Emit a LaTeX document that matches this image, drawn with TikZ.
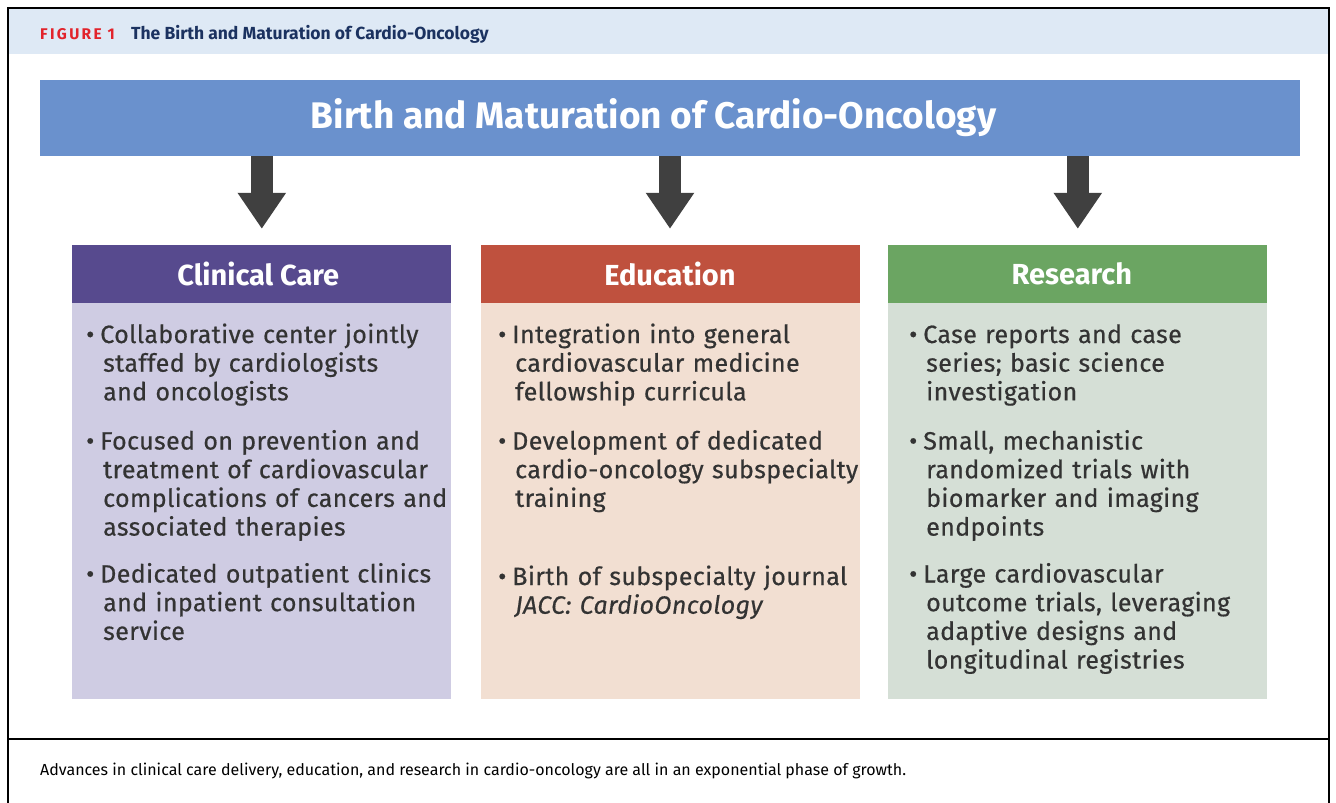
\documentclass[tikz,border=0pt]{standalone}
\usepackage{fontspec}
\setmainfont{Fira Sans}
\newfontfamily\bodyfont[FakeBold=0.5,LetterSpace=1.5]{Fira Sans}
\newfontfamily\figlabelfont[LetterSpace=15]{Fira Sans}
\usetikzlibrary{arrows.meta,positioning}

\definecolor{figBandColor}{RGB}{222,233,245}
\definecolor{figLabelColor}{RGB}{226,35,43}
\definecolor{figTitleColor}{RGB}{27,50,96}
\definecolor{bannerColor}{RGB}{106,145,205}
\definecolor{arrowColor}{RGB}{64,64,64}
\definecolor{textColor}{RGB}{51,51,51}
\definecolor{careHeadColor}{RGB}{87,74,142}
\definecolor{careBodyColor}{RGB}{207,204,227}
\definecolor{eduHeadColor}{RGB}{191,81,62}
\definecolor{eduBodyColor}{RGB}{242,223,210}
\definecolor{resHeadColor}{RGB}{107,165,98}
\definecolor{resBodyColor}{RGB}{213,223,214}

% one bullet with a hanging indent, lines broken by hand
\newcommand{\bul}[1]{\hangindent=17pt\hangafter=1 \textbullet\hspace{6pt}#1\par}

\begin{document}
\begin{tikzpicture}[x=1pt,y=-1pt]
    \tikzset{
        head/.style={fill=#1, text=white, font=\fontsize{29}{33}\selectfont\bfseries, minimum width=379pt, minimum height=58pt, inner sep=0pt},
        pillar/.style={fill=#1, minimum width=379pt, minimum height=396pt, inner sep=0pt},
        item/.style={anchor=base west, inner sep=0pt, text width=365pt, align=left, text=textColor, font=\bodyfont\fontsize{25}{28.7}\selectfont},
        bigarrow/.style={arrowColor, line width=22pt, -{Triangle[width=46pt,length=36pt]}, shorten >=16pt}
    }
    \useasboundingbox (0,0) rectangle (1336,803);

    % frame, title band and caption rule
    \fill[figBandColor] (9,9) rectangle (1328,54);
    \draw[line width=2pt] (8,8) rectangle (1329,810);
    \draw[line width=2.5pt] (8,739) -- (1329,739);
    \node[anchor=base west, inner sep=0pt] (figlabel) at (40,39)
        {\figlabelfont\fontsize{15.5}{16}\selectfont\bfseries\textcolor{figLabelColor}{FIGURE 1}};
    \node[anchor=base west, inner sep=0pt] (figtitle) at (131,39)
        {\fontsize{17.5}{18}\selectfont\bfseries\textcolor{figTitleColor}{The Birth and Maturation of Cardio-Oncology}};

    \node[fill=bannerColor, minimum width=1260pt, minimum height=76pt, inner sep=0pt,
          text=white, font=\fontsize{37}{40}\selectfont\bfseries] (banner) at (670,118)
        {Birth and Maturation of Cardio-Oncology\hspace*{33pt}};

    % the three pillars
    \node[head=careHeadColor] (care) at (261.8,274) {Clinical Care\hspace*{7pt}};
    \node[pillar=careBodyColor, below=0pt of care] (careBody) {};
    \node[head=eduHeadColor] (edu) at (670,274) {Education};
    \node[pillar=eduBodyColor, below=0pt of edu] (eduBody) {};
    \node[head=resHeadColor] (res) at (1077.8,274) {Research\hspace*{12pt}};
    \node[pillar=resBodyColor, below=0pt of res] (resBody) {};

    \foreach \p in {care,edu,res}
        \draw[bigarrow] (banner.south -| \p.north) -- (\p.north);

    % Clinical Care
    \node[item] (care1) at (86,343) {\bul{Collaborative center jointly\newline staffed by cardiologists\newline and oncologists}};
    \node[item] (care2) at (86,449.5) {\bul{Focused on prevention and\newline treatment of cardiovascular\newline complications of cancers and\newline associated therapies}};
    \node[item] (care3) at (86,582.5) {\bul{Dedicated outpatient clinics\newline and inpatient consultation\newline service}};

    % Education
    \node[item] (edu1) at (498,343) {\bul{Integration into general\newline cardiovascular medicine\newline fellowship curricula}};
    \node[item] (edu2) at (498,449.5) {\bul{Development of dedicated\newline cardio-oncology subspecialty\newline training}};
    \node[item] (edu3) at (498,585) {\bul{Birth of subspecialty journal\newline \textit{JACC: CardioOncology}}};

    % Research
    \node[item] (res1) at (909,343) {\bul{Case reports and case\newline series; basic science\newline investigation}};
    \node[item] (res2) at (909,449.5) {\bul{Small, mechanistic\newline randomized trials with\newline biomarker and imaging\newline endpoints}};
    \node[item] (res3) at (909,582.5) {\bul{Large cardiovascular\newline outcome trials, leveraging\newline adaptive designs and\newline longitudinal registries}};

    \node[anchor=base west, inner sep=0pt, font=\fontsize{16}{18}\selectfont] (caption) at (40,775)
        {Advances in clinical care delivery, education, and research in cardio-oncology are all in an exponential phase of growth.};
\end{tikzpicture}
\end{document}
